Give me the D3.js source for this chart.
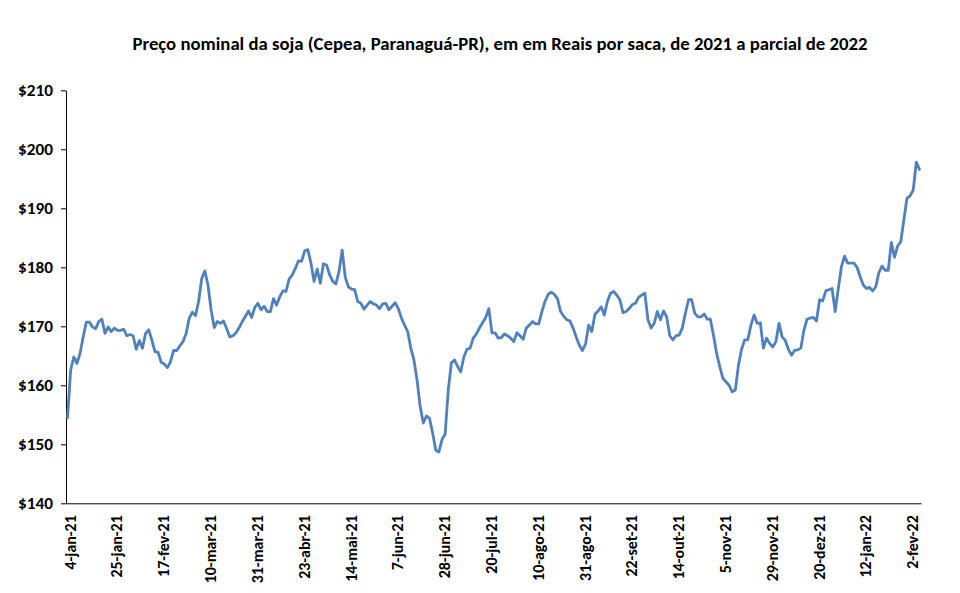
<!DOCTYPE html>
<html>
<head>
<meta charset="utf-8">
<script src="https://cdn.jsdelivr.net/npm/d3@7"></script>
<style>
  html, body { margin: 0; padding: 0; background: #fff; }
  svg { display: block; }
</style>
</head>
<body>
<svg id="chart" width="960" height="593"></svg>
<script>
const titleText = "Preço nominal da soja (Cepea, Paranaguá-PR), em em Reais por saca, de 2021 a parcial de 2022";

// Daily prices (R$/saca), trading days from 4-jan-21 to early fev-22
const prices = [
  154.5,162.6,164.8,163.7,165.4,168.2,170.7,170.7,169.9,169.6,
  170.8,171.2,168.8,169.9,169.1,169.7,169.3,169.3,169.5,168.4,
  168.6,168.4,166.1,167.6,166.3,168.8,169.4,167.7,165.7,165.6,
  163.9,163.6,163.0,164.0,165.9,165.9,166.7,167.4,168.8,171.4,
  172.4,171.8,174.2,178.1,179.4,177.0,172.8,169.8,170.8,170.5,
  170.9,169.6,168.2,168.4,168.9,169.8,170.8,171.7,172.6,171.5,
  173.2,173.9,172.8,173.4,172.5,172.5,174.7,173.6,175.0,176.0,
  175.9,178.0,178.7,179.8,181.1,181.0,182.8,183.0,180.7,177.6,
  179.7,177.3,180.6,180.4,178.7,177.6,177.2,179.3,182.9,178.3,
  176.7,176.3,176.2,174.2,173.9,172.9,173.6,174.2,173.8,173.6,
  173.0,173.8,173.9,172.8,173.4,174.0,173.0,171.4,170.2,169.1,
  166.3,164.3,160.9,156.4,153.6,154.8,154.4,151.9,149.0,148.7,
  150.8,151.7,159.2,163.8,164.3,163.2,162.3,164.8,166.1,166.3,
  168.0,168.7,169.7,170.6,171.5,173.0,168.9,168.9,168.0,168.1,
  168.7,168.4,168.0,167.4,168.9,168.4,167.8,169.7,170.2,170.8,
  170.4,170.4,172.5,174.2,175.4,175.8,175.4,174.7,172.5,171.7,
  171.1,170.9,169.7,168.2,166.8,165.9,167.0,170.2,169.1,172.0,
  172.6,173.3,171.9,174.2,175.6,175.9,175.3,174.5,172.3,172.5,
  173.0,173.7,173.9,174.9,175.3,175.6,171.1,169.7,170.5,172.5,
  171.1,172.6,171.6,168.4,167.7,168.4,168.5,169.7,172.2,174.5,
  174.5,172.2,171.6,171.6,172.1,171.2,171.2,168.5,165.4,163.2,
  161.2,160.6,160.0,158.9,159.2,163.4,166.1,167.7,167.7,170.2,
  171.9,170.5,170.6,166.3,168.0,167.1,166.5,167.4,170.5,168.2,
  167.6,166.1,165.1,165.9,166.0,166.3,169.4,171.2,171.4,171.5,
  170.9,174.5,174.3,176.0,176.2,176.4,172.5,176.4,180.1,181.9,
  180.7,180.7,180.7,180.0,178.4,177.0,176.4,176.6,176.0,176.7,
  179.1,180.2,179.5,179.5,184.2,181.7,183.6,184.3,188.0,191.7,
  192.1,193.1,197.8,196.6
];

// Category tick labels, one every 15 trading days
const tickLabels = [
  "4-jan-21","25-jan-21","17-fev-21","10-mar-21","31-mar-21","23-abr-21",
  "14-mai-21","7-jun-21","28-jun-21","20-jul-21","10-ago-21","31-ago-21",
  "22-set-21","14-out-21","5-nov-21","29-nov-21","20-dez-21","12-jan-22","2-fev-22"
];
const tickStep = 15;
const yTicks = [140,150,160,170,180,190,200,210];

const svg = d3.select("#chart");
const font = "Carlito, 'Liberation Sans', Arial, sans-serif";

const mLeft = 66, mRight = 921, mTop = 90.3, mBottom = 503.3;

const x = d3.scaleBand().domain(d3.range(prices.length)).range([mLeft, mRight]).padding(0);
const y = d3.scaleLinear().domain([140, 210]).range([mBottom, mTop]);

// Title
const title = svg.append("text")
  .attr("x", 500).attr("y", 50)
  .attr("text-anchor", "middle")
  .style("font-family", font).style("font-weight", "bold").style("font-size", "16px")
  .attr("fill", "#000")
  .text(titleText);
const tl = title.node().getComputedTextLength();
title.style("font-size", (16 * 735 / tl) + "px");

// Y axis
const yAxis = svg.append("g")
  .attr("transform", `translate(${mLeft},0)`)
  .call(d3.axisLeft(y).tickValues(yTicks).tickSize(5).tickSizeOuter(0).tickPadding(8).tickFormat(d => "$" + d));
yAxis.selectAll("line, path").attr("stroke", "#000");
const yText = yAxis.selectAll("text")
  .style("font-family", font).style("font-weight", "bold").style("font-size", "15px").attr("fill", "#000");
const yLen = d3.max(yText.nodes(), n => n.getComputedTextLength());
const sy = 35 / yLen;
yText.attr("x", -13 / sy).attr("transform", `scale(${sy},1)`);

// X axis
const tickIdx = tickLabels.map((_, i) => i * tickStep);
const xAxis = svg.append("g")
  .attr("transform", `translate(0,${mBottom})`)
  .call(d3.axisBottom(x).tickValues(tickIdx).tickSize(0).tickSizeOuter(0).tickFormat((d, i) => tickLabels[i]));
xAxis.selectAll("path").attr("stroke", "#000");
const xText = xAxis.selectAll("text")
  .attr("text-anchor", "end")
  .attr("y", 2.5).attr("dy", "0.35em")
  .style("font-family", font).style("font-weight", "bold").style("font-size", "16px").attr("fill", "#000");
const refLen = xText.filter((d, i) => i === 3).node().getComputedTextLength();
const sx = 68 / refLen;
xText.attr("x", -12 / sx).attr("transform", `rotate(-90) scale(${sx},1)`);

// Line
const line = d3.line()
  .x((d, i) => x(i) + x.bandwidth() / 2)
  .y(d => y(d));
svg.append("path")
  .datum(prices)
  .attr("d", line)
  .attr("fill", "none")
  .attr("stroke", "#4F81BD")
  .attr("stroke-width", 2.8)
  .attr("stroke-linejoin", "round")
  .attr("stroke-linecap", "round");
</script>
</body>
</html>
